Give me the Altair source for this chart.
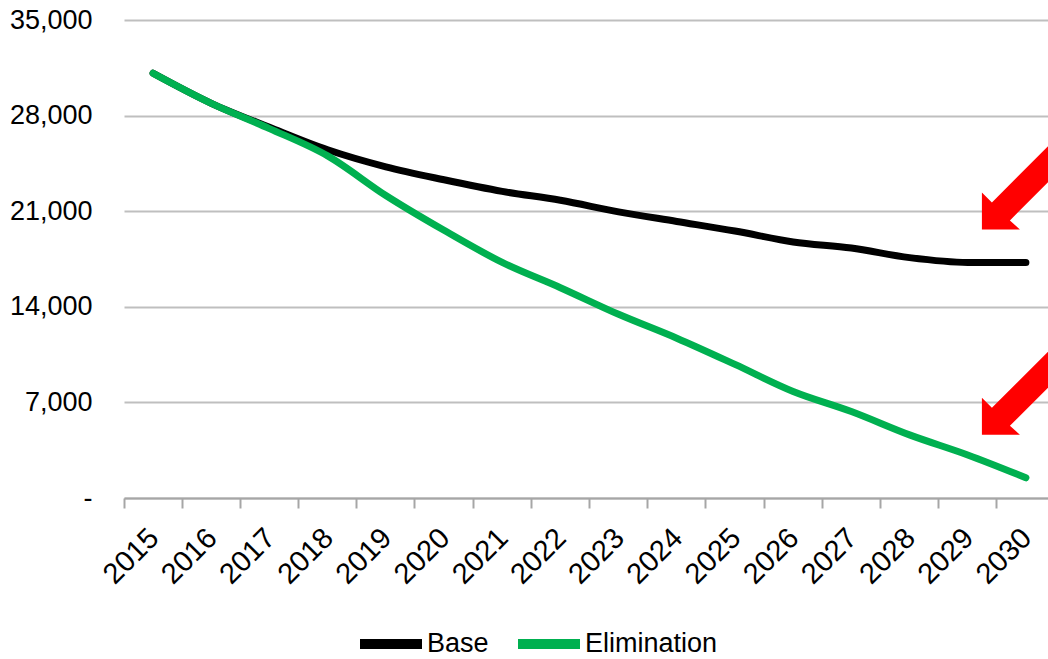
import altair as alt
import pandas as pd

# Projected values by year for the two scenarios
years = [str(y) for y in range(2015, 2031)]
base = [31100, 28900, 27150, 25500, 24250, 23300, 22450, 21800,
        20950, 20250, 19550, 18750, 18300, 17600, 17250, 17250]
elimination = [31100, 28900, 27050, 25050, 22150, 19600, 17250, 15400,
               13450, 11700, 9780, 7800, 6330, 4620, 3150, 1480]

series_names = ["Base", "Elimination"]
series_colors = ["#000000", "#00b050"]
y_ticks = [0, 7000, 14000, 21000, 28000, 35000]

FONT = "Liberation Sans, Arial, sans-serif"
FS = 27
GRID_GREY = "#bfbfbf"
AXIS_GREY = "#a6a6a6"

rows = []
for name, values in zip(series_names, [base, elimination]):
    for yr, v in zip(years, values):
        rows.append({"year": yr, "value": v, "series": name})
df = pd.DataFrame(rows)

W, H = 924, 478

x_enc = alt.X(
    "year:O",
    sort=years,
    bandPosition=0.5,
    scale=alt.Scale(type="band", paddingInner=0, paddingOuter=0, range=[0, 931]),
    axis=alt.Axis(
        title=None,
        bandPosition=0,
        labelAngle=-45,
        labelAlign="right",
        labelBaseline="middle",
        labelOffset=1,
        labelPadding=25,
        labelFont=FONT,
        labelFontSize=29,
        labelColor="#000000",
        domainColor=AXIS_GREY,
        domainWidth=2,
        tickColor=AXIS_GREY,
        tickWidth=2,
        tickSize=10,
        grid=False,
    ),
)

y_enc = alt.Y(
    "value:Q",
    scale=alt.Scale(domain=[0, 35000], nice=False, zero=True),
    axis=alt.Axis(
        title=None,
        values=y_ticks,
        labelExpr="datum.value == 0 ? '-' : format(datum.value, ',')",
        labelFont=FONT,
        labelFontSize=FS,
        labelColor="#000000",
        labelPadding=32,
        ticks=False,
        domain=False,
        grid=True,
        gridColor=GRID_GREY,
        gridWidth=2,
    ),
)

lines = alt.Chart(df).mark_line(
    strokeWidth=7, strokeCap="round", strokeJoin="round", interpolate="monotone"
).encode(
    x=x_enc,
    y=y_enc,
    color=alt.Color(
        "series:N",
        scale=alt.Scale(domain=series_names, range=series_colors),
        legend=alt.Legend(
            title=None,
            orient="none",
            direction="horizontal",
            legendX=231,
            legendY=588,
            symbolType="stroke",
            symbolSize=3844,
            symbolStrokeWidth=10,
            labelFont=FONT,
            labelFontSize=FS,
            labelColor="#000000",
            labelOffset=0,
            columnPadding=9,
        ),
    ),
    detail="series:N",
)

# Red call-out arrows pointing at the 2030 end of each scenario line
ARROW = "M0,0 L0,-0.37 L0.10,-0.27 L1.20,-1.37 L1.38,-1.19 L0.28,-0.09 L0.38,0 Z"
arrow_layers = []
for values, dy in zip([base, elimination], [-33, -43]):
    end = pd.DataFrame({"year": [years[-1]], "value": [values[-1]]})
    arrow_layers.append(
        alt.Chart(end).mark_point(
            shape=ARROW, size=40000, filled=True, color="#ff0000",
            opacity=1, strokeWidth=0, xOffset=-44, yOffset=dy,
        ).encode(
            x=alt.X("year:O", sort=years, bandPosition=0.5),
            y="value:Q",
        )
    )

chart = alt.layer(lines, *arrow_layers).properties(
    width=W,
    height=H,
    background="#ffffff",
    autosize=alt.AutoSizeParams(type="none"),
    padding={"left": 124, "top": 20, "right": 0, "bottom": 161},
).configure_view(stroke=None)

chart.save("out.html", embed_options={"renderer": "svg", "actions": False})
